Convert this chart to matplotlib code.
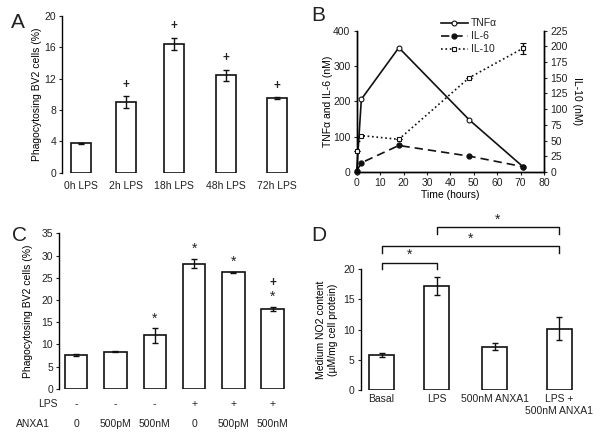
import matplotlib
matplotlib.use('Agg')
import matplotlib.pyplot as plt
from matplotlib.lines import Line2D

plt.rcParams['font.family'] = ['Liberation Sans', 'DejaVu Sans']
plt.rcParams['font.size'] = 7.5
plt.rcParams['axes.linewidth'] = 1.0
plt.rcParams['xtick.major.size'] = 2.5
plt.rcParams['ytick.major.size'] = 2.5
plt.rcParams['text.color'] = '#222222'
plt.rcParams['xtick.color'] = '#222222'
plt.rcParams['ytick.color'] = '#222222'

# Panel A data
a_labels = ['0h LPS', '2h LPS', '18h LPS', '48h LPS', '72h LPS']
a_values = [3.75, 9.0, 16.4, 12.45, 9.5]
a_errors = [0.1, 0.75, 0.8, 0.7, 0.1]
a_marks = ['', '+', '+', '+', '+']

# Panel B data
b_time = [0, 2, 18, 48, 71]
b_tnf = [0, 206, 352, 148, 15]
b_il6 = [3, 26, 75, 45, 15]
b_il10 = [34, 58, 52, 150, 197]
b_il10_err = [0, 0, 0, 0, 9]

# Panel C data
c_lps = ['-', '-', '-', '+', '+', '+']
c_anxa1 = ['0', '500pM', '500nM', '0', '500pM', '500nM']
c_values = [7.6, 8.35, 12.0, 28.2, 26.2, 18.0]
c_errors = [0.3, 0.1, 1.6, 1.1, 0.2, 0.5]
c_marks = ['', '', '*', '*', '*', '*']
c_marks2 = ['', '', '', '', '', '+']

# Panel D data
d_labels = ['Basal', 'LPS', '500nM ANXA1', 'LPS +\n500nM ANXA1']
d_values = [5.8, 17.15, 7.2, 10.15]
d_errors = [0.4, 1.55, 0.5, 1.85]
d_pairs = [(0, 1), (0, 3), (1, 3)]

# layout (bar centres as drawn in the figure)
a_pos = [0, 0.92, 1.9, 2.96, 4.0]
c_pos = [0, 1, 2, 3, 4, 5]
d_pos = [0, 0.968, 1.988, 3.118]
d_bracket_y = [21.0, 23.7, 26.8]

fig = plt.figure(figsize=(6.03, 4.32), dpi=100)

def bar_axes(ax):
    for s in ['top', 'right', 'bottom']:
        ax.spines[s].set_visible(False)
    ax.tick_params(axis='x', length=0, pad=6)
    ax.tick_params(axis='y', direction='out', pad=2)

err_kw = dict(ecolor='#111111', elinewidth=1.0, capsize=2.2, capthick=1.0)

# ---------- A ----------
axA = fig.add_axes([0.1033, 0.6002, 0.381, 0.3628])
axA.bar(a_pos, a_values, width=0.407, color='white', edgecolor='#111111',
        linewidth=1.2, yerr=a_errors, error_kw=err_kw)
for x, v, e, m in zip(a_pos, a_values, a_errors, a_marks):
    if m:
        axA.annotate(m, (x, v + e), xytext=(0, 4), textcoords='offset points',
                     ha='center', va='bottom', fontsize=8.5, fontweight='bold')
axA.set_xlim(-0.374, 4.3)
axA.set_ylim(0, 20)
axA.set_yticks([0, 4, 8, 12, 16, 20])
axA.set_xticks(a_pos)
axA.set_xticklabels(a_labels)
axA.set_ylabel('Phagocytosing BV2 cells (%)', labelpad=2)
bar_axes(axA)
fig.text(0.03, 0.948, 'A', fontsize=15, ha='center', va='center')

# ---------- B ----------
axB = fig.add_axes([0.5915, 0.6019, 0.3107, 0.327])
axB2 = axB.twinx()
axB.plot(b_time, b_tnf, '-', color='#111111', lw=1.2, marker='o', ms=3.5,
         mfc='white', mec='#111111', mew=0.8, clip_on=False, zorder=3)
axB.plot(b_time, b_il6, '--', color='#111111', lw=1.2, dashes=(5, 3), marker='o',
         ms=3.5, mfc='#111111', mec='#111111', clip_on=False, zorder=3)
axB2.errorbar(b_time, b_il10, yerr=b_il10_err, fmt=':', color='#111111', lw=1.2,
              marker='s', ms=3.2, mfc='white', mec='#111111', mew=0.8,
              capsize=2, elinewidth=1.0, clip_on=False, zorder=3)
axB.set_xlim(0, 80)
axB.set_ylim(0, 400)
axB2.set_ylim(0, 225)
axB.set_xticks(range(0, 81, 10))
axB.set_yticks([0, 100, 200, 300, 400])
axB2.set_yticks(range(0, 226, 25))
axB.spines['top'].set_visible(False)
axB2.spines['top'].set_visible(False)
axB.tick_params(direction='out', pad=2)
axB2.tick_params(direction='out', pad=2)
axB.set_xlabel('Time (hours)', labelpad=1)
axB.set_ylabel('TNFα and IL-6 (nM)', labelpad=0)
axB2.set_ylabel('IL-10 (nM)', rotation=270, labelpad=10)
handles = [
    Line2D([], [], color='#111111', lw=1.2, marker='o', ms=3.5, mfc='white', mew=0.8),
    Line2D([], [], color='#111111', lw=1.2, ls='--', dashes=(5, 3), marker='o', ms=3.5),
    Line2D([], [], color='#111111', lw=1.2, ls=':', marker='s', ms=3.2, mfc='white', mew=0.8),
]
axB.legend(handles, ['TNFα', 'IL-6', 'IL-10'], loc='center', frameon=False,
           bbox_to_anchor=(0.6, 0.96), handlelength=2.6, labelspacing=0.3,
           handletextpad=0.3, fontsize=7.5)
fig.text(0.528, 0.964, 'B', fontsize=15, ha='center', va='center')

# ---------- C ----------
axC = fig.add_axes([0.0983, 0.1002, 0.3826, 0.3597])
axC.bar(c_pos, c_values, width=0.57, color='white', edgecolor='#111111',
        linewidth=1.2, yerr=c_errors, error_kw=err_kw)
for x, v, e, m, m2 in zip(c_pos, c_values, c_errors, c_marks, c_marks2):
    if m:
        axC.annotate(m, (x, v + e), xytext=(0, 2), textcoords='offset points',
                     ha='center', va='bottom', fontsize=10)
    if m2:
        axC.annotate(m2, (x, v + e), xytext=(0, 13), textcoords='offset points',
                     ha='center', va='bottom', fontsize=8.5, fontweight='bold')
axC.set_xlim(-0.43, 5.44)
axC.set_ylim(0, 35)
axC.set_yticks(range(0, 36, 5))
axC.set_xticks([])
axC.set_ylabel('Phagocytosing BV2 cells (%)', labelpad=6)
bar_axes(axC)
tr = axC.get_xaxis_transform()
for x, l, a in zip(c_pos, c_lps, c_anxa1):
    axC.text(x, -0.098, l, transform=tr, ha='center', va='center')
    axC.text(x, -0.227, a, transform=tr, ha='center', va='center')
axC.text(-0.005, -0.098, 'LPS', transform=axC.transAxes, ha='right', va='center')
axC.text(-0.04, -0.227, 'ANXA1', transform=axC.transAxes, ha='right', va='center')
fig.text(0.032, 0.455, 'C', fontsize=15, ha='center', va='center')

# ---------- D ----------
axD = fig.add_axes([0.5987, 0.0965, 0.363, 0.2815])
axD.bar(d_pos, d_values, width=0.44, color='white', edgecolor='#111111',
        linewidth=1.2, yerr=d_errors, error_kw=err_kw)
axD.set_xlim(-0.36, 3.48)
axD.set_ylim(0, 20)
axD.set_yticks([0, 5, 10, 15, 20])
axD.set_xticks(d_pos)
axD.set_xticklabels(d_labels)
axD.set_ylabel('Medium NO2 content\n(µM/mg cell protein)', labelpad=4)
bar_axes(axD)
axD.tick_params(axis='x', pad=3)
for (i, j), h in zip(d_pairs, d_bracket_y):
    x0, x1 = d_pos[i], d_pos[j]
    axD.plot([x0, x0, x1, x1], [h - 1.1, h, h, h - 1.1], color='#111111',
             lw=1.0, clip_on=False)
    axD.text((x0 + x1) / 2, h + 0.1, '*', ha='center', va='bottom', fontsize=10)
fig.text(0.528, 0.455, 'D', fontsize=15, ha='center', va='center')

fig.savefig('out.png', dpi=100)
